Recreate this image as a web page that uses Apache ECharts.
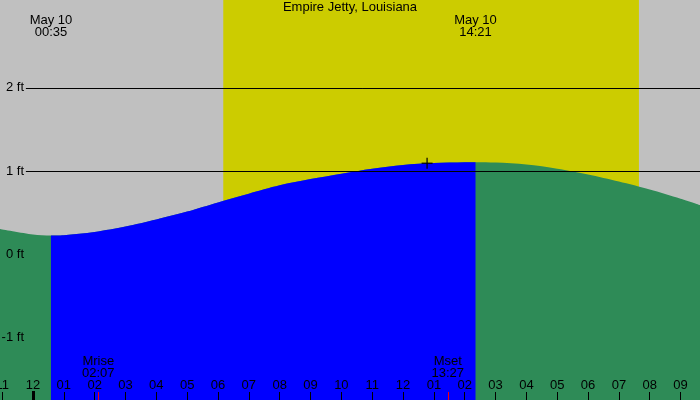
<!DOCTYPE html>
<html>
<head>
<meta charset="utf-8">
<script src="https://cdn.jsdelivr.net/npm/echarts@6/dist/echarts.min.js"></script>
<style>
  html, body { margin: 0; padding: 0; background: #c0c0c0; }
  #chart { width: 700px; height: 400px; }
</style>
</head>
<body>
<div id="chart"></div>
<script>
// hours since midnight May 10
const xMin = -1.07
const xMax = 21.63
const yMin = -1.747
const yMax = 3.055

const hourTicks = [-1, 0, 1, 2, 3, 4, 5, 6, 7, 8, 9, 10, 11, 12, 13, 14, 15, 16, 17, 18, 19, 20, 21]
const footTicks = [-1, 0, 1, 2]
const gridFeet = [1, 2]

// tide curve (hours, feet)
const tideHours = [-1.07, 0, 0.583, 1, 2, 3, 4, 5, 6, 7, 8, 9, 10, 11, 12, 13, 14, 14.35, 15, 16, 17, 18, 19, 20, 21, 21.63]
const tideFeet = [0.306, 0.24, 0.228, 0.232, 0.27, 0.335, 0.42, 0.515, 0.625, 0.73, 0.83, 0.905, 0.97, 1.03, 1.075, 1.098, 1.107, 1.108, 1.103, 1.08, 1.03, 0.96, 0.875, 0.78, 0.67, 0.594]
const lowHour = 0.583
const highHour = 14.35

const extremeHours = [0.583, 14.35]
const extremeLabels = ['May 10\n00:35', 'May 10\n14:21']

const moonHours = [2.117, 13.45]
const moonLabels = ['Mrise\n02:07', 'Mset\n13:27']

const sunrise = 6.17
const sunset = 19.65

const nowHour = 12.78
const nowFeet = 1.095

const font = 'Liberation Sans'

const chart = echarts.init(document.getElementById('chart'))

const allPts = tideHours.map((h, i) => [h, tideFeet[i]])
const risingPts = allPts.filter((p) => p[0] >= lowHour && p[0] <= highHour)

const pad = (h) => {
  let v = ((h % 12) + 12) % 12
  if (v === 0) v = 12
  return v < 10 ? '0' + v : '' + v
}

const baseX = {
  type: 'value',
  min: xMin,
  max: xMax,
  gridIndex: 0,
  splitLine: { show: false },
  axisLine: { show: false, onZero: false },
  z: 10,
}

const option = {
  animation: false,
  backgroundColor: '#c0c0c0',
  textStyle: { fontFamily: font },
  title: {
    text: 'Empire Jetty, Louisiana',
    left: 'center',
    top: 1,
    padding: 0,
    textStyle: { fontFamily: font, fontSize: 13, fontWeight: 'normal', color: '#000' },
  },
  grid: { left: 0, right: 0, top: 0, bottom: 0, containLabel: false, outerBoundsMode: 'none' },
  xAxis: [
    {
      ...baseX,
      position: 'bottom',
      axisTick: { inside: true, length: 8, customValues: hourTicks, lineStyle: { color: '#000', width: 1 } },
      axisLabel: {
        inside: true,
        margin: 8,
        customValues: hourTicks,
        formatter: (v) => pad(v),
        fontFamily: font,
        fontSize: 13,
        color: '#000',
      },
    },
    {
      ...baseX,
      position: 'bottom',
      axisTick: { inside: true, length: 9, customValues: [0], lineStyle: { color: '#000', width: 3 } },
      axisLabel: { show: false },
    },
    {
      ...baseX,
      position: 'bottom',
      axisTick: { inside: true, length: 8, customValues: moonHours, lineStyle: { color: '#ff0000', width: 1 } },
      axisLabel: {
        inside: true,
        margin: 21,
        customValues: moonHours,
        formatter: (v) => moonLabels[moonHours.indexOf(v)],
        fontFamily: font,
        fontSize: 13,
        lineHeight: 12,
        color: '#000',
      },
    },
    {
      ...baseX,
      position: 'top',
      axisTick: { show: false },
      axisLabel: {
        inside: true,
        margin: 14,
        customValues: extremeHours,
        formatter: (v) => extremeLabels[extremeHours.indexOf(v)],
        fontFamily: font,
        fontSize: 13,
        lineHeight: 12,
        color: '#000',
      },
    },
  ],
  yAxis: {
    type: 'value',
    min: yMin,
    max: yMax,
    z: 10,
    splitLine: { show: false },
    axisLine: { show: false, onZero: false },
    axisTick: { show: false },
    axisLabel: {
      inside: true,
      align: 'right',
      margin: 24,
      customValues: footTicks,
      formatter: '{value} ft',
      fontFamily: font,
      fontSize: 13,
      color: '#000',
    },
  },
  series: [
    {
      name: 'daylight',
      type: 'line',
      data: [],
      z: 1,
      silent: true,
      markArea: {
        silent: true,
        itemStyle: { color: '#cccc00', opacity: 1 },
        data: [[{ xAxis: sunrise }, { xAxis: sunset }]],
      },
      markLine: {
        silent: true,
        symbol: 'none',
        label: { show: false },
        lineStyle: { color: '#000', width: 1, type: 'solid' },
        data: gridFeet.map((f) => [{ coord: [-0.23, f] }, { coord: [xMax, f] }]),
      },
    },
    {
      name: 'falling',
      type: 'line',
      z: 2,
      smooth: 0.3,
      showSymbol: false,
      lineStyle: { width: 0 },
      areaStyle: { color: '#2e8b57', opacity: 1, origin: 'start' },
      data: allPts,
    },
    {
      name: 'rising',
      type: 'line',
      z: 3,
      smooth: 0.3,
      showSymbol: false,
      lineStyle: { width: 0 },
      areaStyle: { color: '#0000ff', opacity: 1, origin: 'start' },
      data: risingPts,
    },
    {
      name: 'now-h',
      type: 'scatter',
      z: 5,
      silent: true,
      symbol: 'rect',
      symbolSize: [11, 1.5],
      itemStyle: { color: '#000' },
      data: [[nowHour, nowFeet]],
    },
    {
      name: 'now-v',
      type: 'scatter',
      z: 5,
      silent: true,
      symbol: 'rect',
      symbolSize: [1.5, 11],
      itemStyle: { color: '#000' },
      data: [[nowHour, nowFeet]],
    },
  ],
}

option && chart.setOption(option)
</script>
</body>
</html>
